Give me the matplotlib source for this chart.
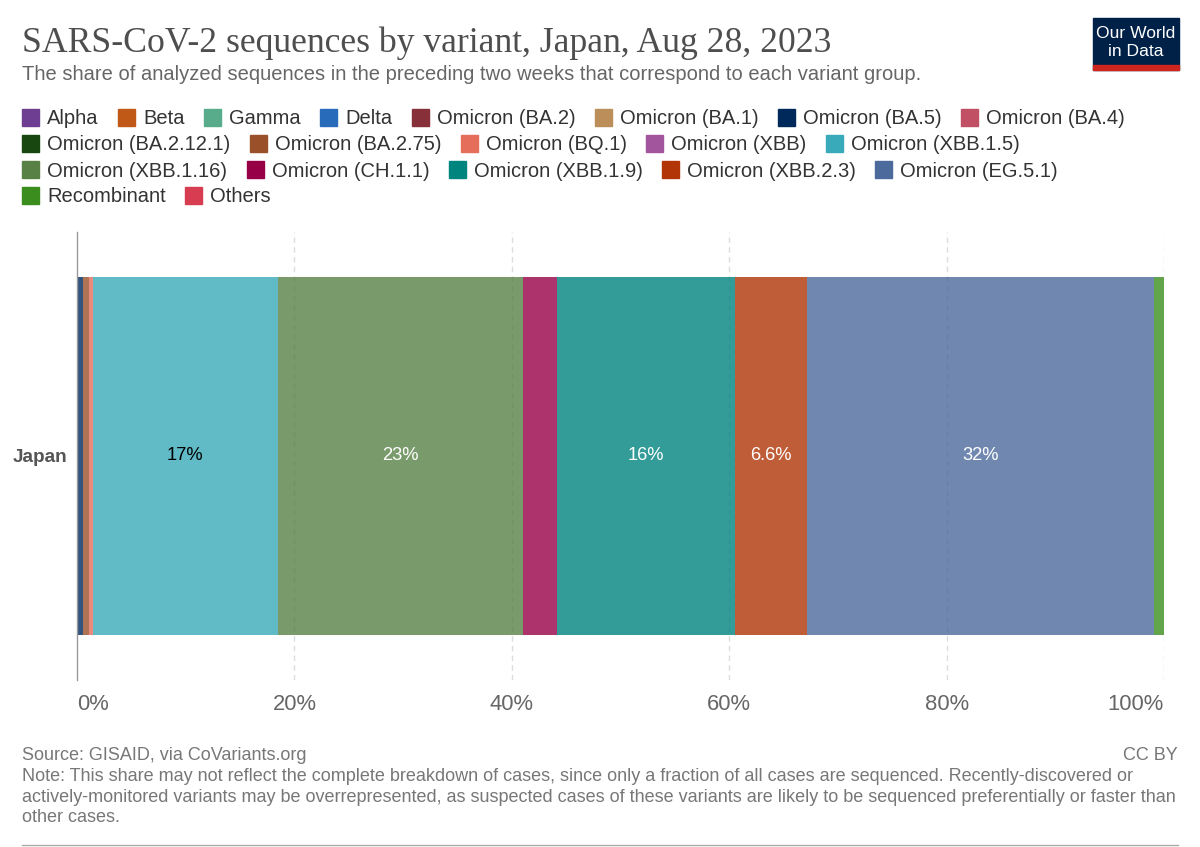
# SARS-CoV-2 sequences by variant, Japan (stacked share bar, OWID style)

import matplotlib
matplotlib.use('Agg')
import matplotlib.pyplot as plt
from matplotlib.patches import Rectangle

# =========================
# Data
# =========================
variants = ['Alpha', 'Beta', 'Gamma', 'Delta', 'Omicron (BA.2)', 'Omicron (BA.1)',
            'Omicron (BA.5)', 'Omicron (BA.4)', 'Omicron (BA.2.12.1)', 'Omicron (BA.2.75)',
            'Omicron (BQ.1)', 'Omicron (XBB)', 'Omicron (XBB.1.5)', 'Omicron (XBB.1.16)',
            'Omicron (CH.1.1)', 'Omicron (XBB.1.9)', 'Omicron (XBB.2.3)', 'Omicron (EG.5.1)',
            'Recombinant', 'Others']
shares = [0, 0, 0, 0, 0, 0,
          0.55, 0, 0, 0.55,
          0.35, 0, 17.0, 22.6,
          3.15, 16.35, 6.6, 31.95,
          0.9, 0]
colors = ['#6D3E91', '#C05917', '#58AC8C', '#286BBB', '#883039', '#BC8E5A',
          '#00295B', '#C15065', '#18470F', '#9A5129', '#E56E5A', '#A2559C',
          '#38AABA', '#578145', '#970046', '#00847E', '#B13507', '#4C6A9C',
          '#3B8E1D', '#D73C50']
country = 'Japan'
xticks = [0, 20, 40, 60, 80, 100]

W, H = 1200, 847
SANS = ['Liberation Sans', 'DejaVu Sans']
SERIF = ['Liberation Serif', 'DejaVu Serif']

fig = plt.figure(figsize=(W / 100, H / 100), dpi=100)


def fx(x):
    return x / W


def fy(y):
    return 1 - y / H


# =========================
# Header
# =========================
fig.text(fx(22), fy(43), 'SARS-CoV-2 sequences by variant, Japan, Aug 28, 2023',
         family=SERIF, fontsize=25.7, color='#4e4e4e', va='center', ha='left')
fig.text(fx(22), fy(75), 'The share of analyzed sequences in the preceding two weeks '
         'that correspond to each variant group.',
         family=SANS, fontsize=14.5, color='#666666', va='center', ha='left')

# logo
fig.patches.append(Rectangle((fx(1093), fy(70)), fx(86), 52 / H,
                             transform=fig.transFigure, color='#002147'))
fig.patches.append(Rectangle((fx(1093), fy(70)), fx(86), 5 / H,
                             transform=fig.transFigure, color='#CE261E'))
fig.text(fx(1136), fy(34), 'Our World', family=SANS, fontsize=12.6, color='white',
         ha='center', va='center')
fig.text(fx(1136), fy(52), 'in Data', family=SANS, fontsize=12.6, color='white',
         ha='center', va='center')

# =========================
# Legend (flowing rows)
# =========================
renderer = fig.canvas.get_renderer()
lx, ly = 22, 119
sq = 17
for name, col in zip(variants, colors):
    t = fig.text(0, 0, name, family=SANS, fontsize=14.5, color='#333333',
                 va='center', ha='left')
    tw = t.get_window_extent(renderer).width
    if lx + sq + 8 + tw > 1180:
        lx = 22
        ly += 26
    fig.patches.append(Rectangle((fx(lx), fy(ly - 1 + sq / 2)), sq / W, sq / H,
                                 transform=fig.transFigure, color=col))
    t.set_position((fx(lx + sq + 8), fy(ly)))
    lx += sq + 8 + tw + 19.5

# =========================
# Bar
# =========================
ax = fig.add_axes([fx(77), fy(680), fx(1164 - 77), (680 - 232) / H])
left = 0
for name, val, col in zip(variants, shares, colors):
    if val > 0:
        ax.barh(0, val, left=left, height=0.8, color=col, alpha=0.8, zorder=2)
        if val >= 5:
            r, g, b = matplotlib.colors.to_rgb(col)
            lum = 0.299 * r + 0.587 * g + 0.114 * b
            ax.text(left + val / 2, 0, f'{val:.2g}%', ha='center', va='center',
                    family=SANS, fontsize=13.2,
                    color='black' if lum > 0.5 else 'white', zorder=3)
    left += val

ax.set_xlim(0, 100)
ax.set_ylim(-0.5, 0.5)
for s in ['top', 'right', 'bottom']:
    ax.spines[s].set_visible(False)
ax.spines['left'].set_color('#999999')
ax.spines['left'].set_linewidth(1)

ax.set_xticks(xticks)
ax.set_xticklabels([f'{v}%' for v in xticks], family=SANS, fontsize=15.8, color='#666666')
ax.tick_params(axis='x', length=0, pad=10)
labels = ax.get_xticklabels()
labels[0].set_ha('left')
labels[-1].set_ha('right')
for v in xticks[1:]:
    ax.axvline(v, color='#dddddd', linestyle=(0, (4, 3)), linewidth=1, zorder=1)

ax.set_yticks([0])
ax.set_yticklabels([country], family=SANS, fontsize=13.6, fontweight='bold', color='#555555')
ax.tick_params(axis='y', length=0, pad=7)

# =========================
# Footer
# =========================
fig.text(fx(22), fy(755), 'Source: GISAID, via CoVariants.org', family=SANS,
         fontsize=13, color='#777777', va='center', ha='left')
fig.text(fx(1178), fy(755), 'CC BY', family=SANS, fontsize=13, color='#777777',
         va='center', ha='right')
note = ('Note: This share may not reflect the complete breakdown of cases, since only a '
        'fraction of all cases are sequenced. Recently-discovered or\n'
        'actively-monitored variants may be overrepresented, as suspected cases of these '
        'variants are likely to be sequenced preferentially or faster than\n'
        'other cases.')
fig.text(fx(22), fy(768), note, family=SANS, fontsize=13, color='#777777',
         va='top', ha='left', linespacing=1.27)
fig.add_artist(plt.Line2D([fx(22), fx(1178)], [fy(845), fy(845)],
                          transform=fig.transFigure, color='#aaaaaa', linewidth=1))

fig.savefig('out.png', dpi=100)
